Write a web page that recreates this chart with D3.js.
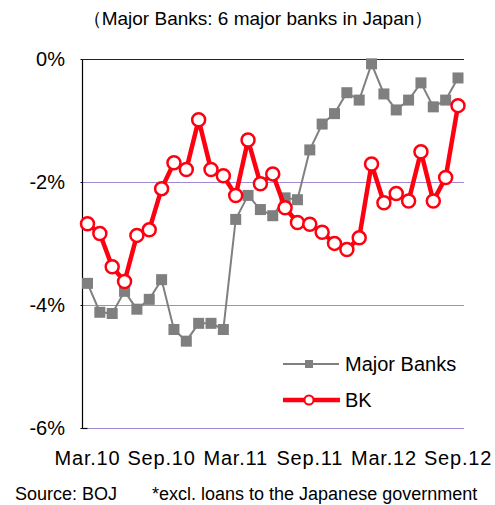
<!DOCTYPE html>
<html><head><meta charset="utf-8">
<script src="https://cdn.jsdelivr.net/npm/d3@7"></script>
<style>body{margin:0;background:#fff}svg{display:block;font-family:Arial,"Liberation Sans",sans-serif}</style>
</head><body>
<script>
const months = ["Mar.10","Apr.10","May.10","Jun.10","Jul.10","Aug.10","Sep.10","Oct.10","Nov.10","Dec.10","Jan.11","Feb.11",
"Mar.11","Apr.11","May.11","Jun.11","Jul.11","Aug.11","Sep.11","Oct.11","Nov.11","Dec.11","Jan.12","Feb.12",
"Mar.12","Apr.12","May.12","Jun.12","Jul.12","Aug.12","Sep.12"];
const majorBanks = [-3.64,-4.11,-4.13,-3.77,-4.06,-3.90,-3.58,-4.39,-4.58,-4.29,-4.29,-4.39,
-2.60,-2.21,-2.44,-2.54,-2.25,-2.28,-1.47,-1.05,-0.88,-0.54,-0.66,-0.07,
-0.56,-0.82,-0.66,-0.38,-0.77,-0.66,-0.30];
const bk = [-2.67,-2.83,-3.37,-3.61,-2.86,-2.77,-2.10,-1.68,-1.79,-0.98,-1.79,-1.89,
-2.21,-1.31,-2.02,-1.86,-2.41,-2.65,-2.68,-2.81,-2.99,-3.09,-2.90,-1.70,
-2.33,-2.18,-2.30,-1.50,-2.30,-1.92,-0.75];
const xTickLabels = ["Mar.10","Sep.10","Mar.11","Sep.11","Mar.12","Sep.12"];
const yTicks = [0,-2,-4,-6];
const title = "（Major Banks: 6 major banks in Japan）";
const source = "Source: BOJ";
const note = "*excl. loans to the Japanese government";

const W=495,H=505;
const svg=d3.select("body").append("svg").attr("width",W).attr("height",H);
const x=d3.scalePoint().domain(months).range([87.5,458]);
const y=d3.scaleLinear().domain([-6,0]).range([428.5,59.5]);
const L=82.5,R=464;

svg.append("text").attr("x",258).attr("y",25).attr("text-anchor","middle")
  .attr("font-size",19).text(title);

// grid
svg.selectAll(".grid").data(yTicks.filter(d=>d!==0)).join("line")
  .attr("x1",L).attr("x2",R).attr("y1",d=>y(d)).attr("y2",d=>y(d))
  .attr("stroke","#a08ad4").attr("stroke-width",1.2);
svg.append("line").attr("x1",L).attr("x2",R).attr("y1",y(0)).attr("y2",y(0)).attr("stroke","#222").attr("stroke-width",1.2);
svg.append("line").attr("x1",L).attr("x2",L).attr("y1",y(0)).attr("y2",y(-6)).attr("stroke","#000").attr("stroke-width",1.2);
svg.selectAll(".ytk").data(yTicks).join("line")
  .attr("x1",L-2).attr("x2",L).attr("y1",d=>y(d)).attr("y2",d=>y(d)).attr("stroke","#000");
svg.append("line").attr("x1",L).attr("x2",L+5).attr("y1",y(-6)).attr("y2",y(-6)).attr("stroke","#000").attr("stroke-width",1.2);

svg.selectAll(".yl").data(yTicks).join("text")
  .attr("x",65).attr("y",d=>y(d)+6).attr("text-anchor","end").attr("font-size",20)
  .text(d=>d+"%");
svg.selectAll(".xl").data(xTickLabels).join("text")
  .attr("x",d=>x(d)).attr("y",465).attr("text-anchor","middle").attr("font-size",20)
  .attr("letter-spacing",0.8).text(d=>d);

// gray series
const line=d3.line().x((d,i)=>x(months[i])).y(d=>y(d));
svg.append("path").attr("d",line(majorBanks)).attr("fill","none").attr("stroke","#808080").attr("stroke-width",2);
const s=11;
svg.selectAll(".sq").data(majorBanks).join("rect")
  .attr("x",(d,i)=>x(months[i])-s/2).attr("y",d=>y(d)-s/2).attr("width",s).attr("height",s)
  .attr("fill","#7f7f7f");

// red series
svg.append("path").attr("d",line(bk)).attr("fill","none").attr("stroke","#ff0010").attr("stroke-width",4.5).attr("stroke-linejoin","round");
svg.selectAll(".ci").data(bk).join("circle")
  .attr("cx",(d,i)=>x(months[i])).attr("cy",d=>y(d)).attr("r",6.5)
  .attr("fill","#fff").attr("stroke","#ff0010").attr("stroke-width",2.5);

// legend
const lg=svg.append("g");
lg.append("line").attr("x1",283).attr("x2",339).attr("y1",364).attr("y2",364).attr("stroke","#808080").attr("stroke-width",2);
lg.append("rect").attr("x",305).attr("y",360).attr("width",8).attr("height",8).attr("fill","#7f7f7f");
lg.append("text").attr("x",345).attr("y",371).attr("font-size",20).text("Major Banks");
lg.append("line").attr("x1",283).attr("x2",340).attr("y1",400).attr("y2",400).attr("stroke","#ff0010").attr("stroke-width",4.5);
lg.append("circle").attr("cx",309).attr("cy",400).attr("r",4.5).attr("fill","#fff").attr("stroke","#ff0010").attr("stroke-width",2);
lg.append("text").attr("x",345).attr("y",407).attr("font-size",20).text("BK");

svg.append("text").attr("x",15).attr("y",500).attr("font-size",18).text(source);
svg.append("text").attr("x",152).attr("y",500).attr("font-size",18).text(note);
</script>
</body></html>
